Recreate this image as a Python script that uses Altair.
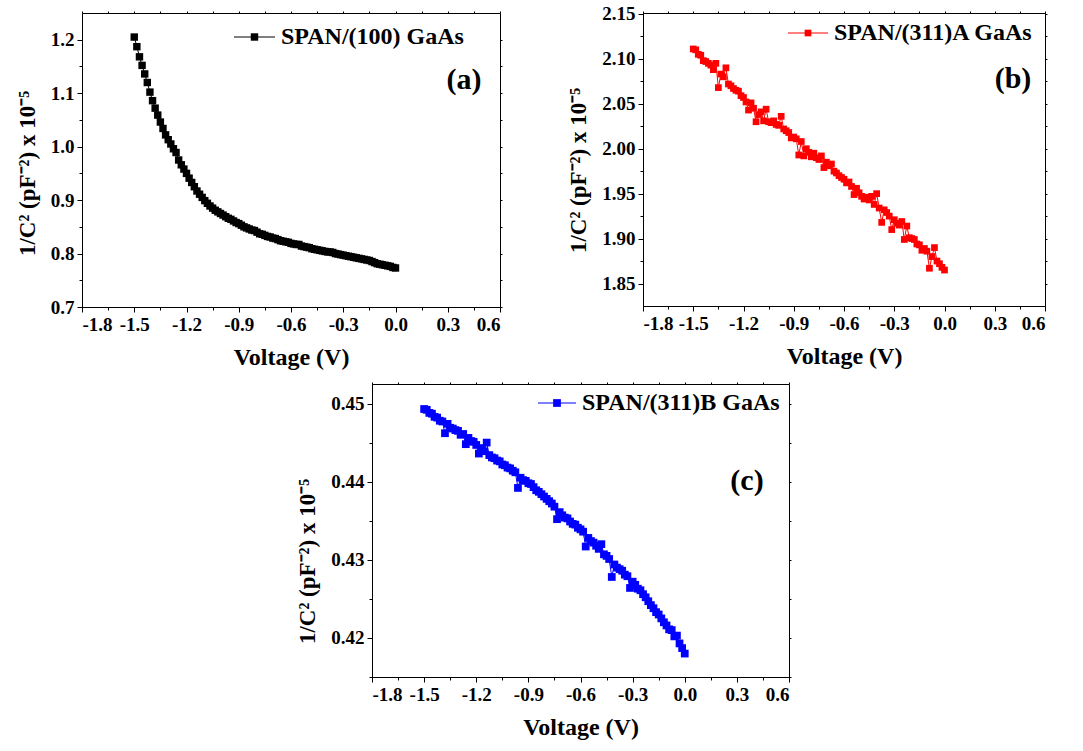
import altair as alt
import pandas as pd

# Voltage sweep (V): -1.5 V to 0 V in 15 mV steps (101 points)
V = [round(-1.5 + 0.015 * i, 3) for i in range(101)]

# (a) SPAN/(100) GaAs
Y_A = [1.205, 1.187, 1.168, 1.152, 1.136, 1.120, 1.102, 1.086, 1.072, 1.059,
       1.046, 1.034, 1.022, 1.013, 1.005, 0.996, 0.989, 0.975, 0.966, 0.958,
       0.950, 0.941, 0.933, 0.925, 0.917, 0.911, 0.905, 0.899, 0.894, 0.889,
       0.885, 0.881, 0.878, 0.875, 0.872, 0.869, 0.866, 0.864, 0.861, 0.858,
       0.856, 0.853, 0.850, 0.848, 0.846, 0.844, 0.843, 0.840, 0.837, 0.836,
       0.834, 0.832, 0.831, 0.829, 0.828, 0.826, 0.824, 0.823, 0.822, 0.821,
       0.819, 0.818, 0.817, 0.817, 0.814, 0.813, 0.812, 0.811, 0.809, 0.808,
       0.807, 0.806, 0.805, 0.804, 0.803, 0.803, 0.802, 0.800, 0.799, 0.798,
       0.797, 0.796, 0.795, 0.794, 0.793, 0.792, 0.791, 0.790, 0.789, 0.788,
       0.787, 0.785, 0.783, 0.781, 0.780, 0.779, 0.778, 0.777, 0.776, 0.774,
       0.773]

# (b) SPAN/(311)A GaAs
Y_B = [2.111, 2.110, 2.105, 2.104, 2.098, 2.097, 2.095, 2.093, 2.088, 2.095,
       2.068, 2.083, 2.080, 2.090, 2.072, 2.070, 2.067, 2.065, 2.064, 2.059,
       2.057, 2.052, 2.043, 2.051, 2.045, 2.030, 2.038, 2.041, 2.031, 2.044,
       2.030, 2.029, 2.031, 2.027, 2.026, 2.036, 2.022, 2.020, 2.018, 2.012,
       2.013, 2.011, 1.993, 2.008, 1.992, 2.000, 1.996, 1.991, 1.995, 1.990,
       1.988, 1.992, 1.979, 1.985, 1.981, 1.983, 1.975, 1.973, 1.970, 1.968,
       1.966, 1.962, 1.963, 1.958, 1.949, 1.956, 1.951, 1.947, 1.944, 1.946,
       1.943, 1.947, 1.938, 1.950, 1.934, 1.918, 1.932, 1.929, 1.925, 1.910,
       1.921, 1.917, 1.915, 1.919, 1.899, 1.914, 1.901, 1.900, 1.899, 1.894,
       1.893, 1.887, 1.889, 1.886, 1.867, 1.880, 1.890, 1.875, 1.872, 1.868,
       1.865]

# (c) SPAN/(311)B GaAs
Y_C = [0.4493, 0.4492, 0.4488, 0.4487, 0.4483, 0.4482, 0.4478, 0.4477, 0.4462, 0.4474,
       0.4469, 0.4468, 0.4466, 0.4465, 0.4460, 0.4461, 0.4448, 0.4456, 0.4452, 0.4451,
       0.4447, 0.4436, 0.4443, 0.4439, 0.4450, 0.4434, 0.4431, 0.4430, 0.4427, 0.4426,
       0.4422, 0.4421, 0.4418, 0.4417, 0.4414, 0.4412, 0.4392, 0.4405, 0.4402, 0.4401,
       0.4398, 0.4397, 0.4393, 0.4389, 0.4387, 0.4384, 0.4381, 0.4378, 0.4375, 0.4372,
       0.4368, 0.4352, 0.4361, 0.4357, 0.4354, 0.4353, 0.4349, 0.4346, 0.4345, 0.4341,
       0.4339, 0.4336, 0.4317, 0.4328, 0.4324, 0.4322, 0.4318, 0.4314, 0.4320, 0.4307,
       0.4305, 0.4301, 0.4278, 0.4294, 0.4290, 0.4288, 0.4286, 0.4281, 0.4279, 0.4264,
       0.4272, 0.4268, 0.4263, 0.4261, 0.4256, 0.4252, 0.4247, 0.4242, 0.4238, 0.4233,
       0.4230, 0.4225, 0.4220, 0.4216, 0.4211, 0.4210, 0.4202, 0.4203, 0.4193, 0.4187,
       0.4180]

X_MAJOR = [-1.8, -1.5, -1.2, -0.9, -0.6, -0.3, 0.0, 0.3, 0.6]
X_MINOR = [-1.65, -1.35, -1.05, -0.75, -0.45, -0.15, 0.15, 0.45]
YA_MAJOR = [0.7, 0.8, 0.9, 1.0, 1.1, 1.2]
YA_MINOR = [0.75, 0.85, 0.95, 1.05, 1.15]
YB_MAJOR = [1.85, 1.90, 1.95, 2.00, 2.05, 2.10, 2.15]
YB_MINOR = [1.875, 1.925, 1.975, 2.025, 2.075, 2.125]
YC_MAJOR = [0.42, 0.43, 0.44, 0.45]
YC_MINOR = [0.415, 0.425, 0.435, 0.445]

LEGENDS = ["SPAN/(100) GaAs", "SPAN/(311)A GaAs", "SPAN/(311)B GaAs"]
LABELS = ["(a)", "(b)", "(c)"]
COLORS = ["#000000", "#ff0000", "#0000ff"]

FONT = "Liberation Serif"
Y_TITLE = "1/C² (pF⁻²) x 10⁻⁵"

AXIS_STYLE = dict(
    labelFont=FONT, labelFontSize=19, labelFontWeight="bold", labelColor="black",
    titleFont=FONT, titleFontWeight="bold", titleColor="black",
    tickColor="black", domainColor="black", grid=False,
    labelPadding=3, titlePadding=11, domainWidth=1, tickWidth=1,
)


def fmt_expr(f):
    return "replace(format(datum.value, '" + f + "'), '\u2212', '-')"


def bare_axis(values, size, orient):
    return alt.Axis(values=values, labels=False, tickSize=size, tickColor="black",
                    tickWidth=1, domain=False, grid=False, title=None, orient=orient)


def panel(yvals, color, ydom, ymaj, ymin, yfmt, size, w, h, title_y,
          leg_text, leg_x0, leg_x1, leg_y, lab_text, lab_x, lab_y):
    df = pd.DataFrame({"V": V, "C": yvals})
    xs = alt.Scale(domain=[-1.8, 0.6], nice=False, zero=False)
    ys = alt.Scale(domain=ydom, nice=False, zero=False)
    x_major = alt.Axis(values=X_MAJOR, labelExpr=fmt_expr(".1f"), tickSize=5,
                       title="Voltage (V)", titleFontSize=24, orient="bottom",
                       **AXIS_STYLE)
    y_major = alt.Axis(values=ymaj, labelExpr=fmt_expr(yfmt), tickSize=5,
                       title=Y_TITLE, titleFontSize=23, titleY=title_y,
                       orient="left", **AXIS_STYLE)

    line = alt.Chart(df).mark_line(color=color, strokeWidth=1).encode(
        x=alt.X("V:Q", scale=xs, axis=x_major),
        y=alt.Y("C:Q", scale=ys, axis=y_major),
    )
    pts = alt.Chart(df).mark_square(color=color, size=size, opacity=1).encode(
        x=alt.X("V:Q", scale=xs, axis=None),
        y=alt.Y("C:Q", scale=ys, axis=None),
    )
    minor = alt.Chart(df).mark_point(opacity=0).encode(
        x=alt.X("V:Q", scale=xs, axis=bare_axis(X_MINOR, 3, "bottom")),
        y=alt.Y("C:Q", scale=ys, axis=bare_axis(ymin, 3, "left")),
    )
    frame = alt.Chart(df).mark_point(opacity=0).encode(
        x=alt.X("V:Q", scale=xs, axis=bare_axis(X_MAJOR + X_MINOR, 2, "top")),
        y=alt.Y("C:Q", scale=ys, axis=bare_axis(ymaj + ymin, 2, "right")),
    )
    one = pd.DataFrame({"t": [leg_text]})
    leg_rule = alt.Chart(one).mark_rule(color=color, strokeWidth=1).encode(
        x=alt.value(leg_x0), x2=alt.value(leg_x1), y=alt.value(leg_y)
    )
    leg_pt = alt.Chart(one).mark_square(color=color, size=size, opacity=1).encode(
        x=alt.value((leg_x0 + leg_x1) / 2), y=alt.value(leg_y)
    )
    leg_txt = alt.Chart(one).mark_text(
        align="left", baseline="middle", font=FONT, fontSize=24,
        fontWeight="bold", color="black"
    ).encode(x=alt.value(leg_x1 + 6), y=alt.value(leg_y), text="t:N")
    lab = alt.Chart(pd.DataFrame({"t": [lab_text]})).mark_text(
        align="center", baseline="middle", font=FONT, fontSize=30,
        fontWeight="bold", color="black"
    ).encode(x=alt.value(lab_x), y=alt.value(lab_y), text="t:N")

    return alt.layer(line, pts, minor, frame, leg_rule, leg_pt, leg_txt, lab).resolve_axis(
        x="independent", y="independent"
    ).properties(width=w, height=h)


pa = panel(Y_A, COLORS[0], [0.7, 1.25], YA_MAJOR, YA_MINOR, ".1f", 55, 418, 294, 160,
           LEGENDS[0], 152, 193, 24, LABELS[0], 382, 67)
pb = panel(Y_B, COLORS[1], [1.825, 2.151], YB_MAJOR, YB_MINOR, ".2f", 45, 402, 293, 157,
           LEGENDS[1], 145, 185, 20, LABELS[1], 370, 66)
pc = panel(Y_C, COLORS[2], [0.415, 0.4525], YC_MAJOR, YC_MINOR, ".2f", 60, 417, 293, 177,
           LEGENDS[2], 166, 204, 19, LABELS[2], 375, 97)

spacer = alt.Chart(pd.DataFrame({"z": [0]})).mark_point(opacity=0).encode(
    x=alt.X("z:Q", axis=None), y=alt.Y("z:Q", axis=None)
).properties(width=203, height=293, view=alt.ViewBackground(stroke="transparent"))

top = alt.hconcat(pa, pb, spacing=64)
bottom = alt.hconcat(spacer, pc, spacing=10)

chart = alt.vconcat(top, bottom, spacing=11).properties(
    padding={"left": 15, "top": 4, "right": 0, "bottom": 0},
    background="white",
).configure_view(
    stroke="black", strokeWidth=1
)

chart.save("out.html", embed_options={"renderer": "svg", "actions": False})
